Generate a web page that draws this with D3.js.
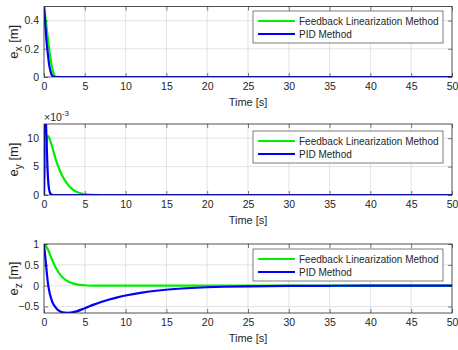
<!DOCTYPE html>
<html>
<head>
<meta charset="utf-8">
<script src="https://cdn.jsdelivr.net/npm/d3@7"></script>
<style>
  html, body { margin: 0; padding: 0; background: #fff; }
  svg { display: block; font-family: "Liberation Sans", Arial, sans-serif; }
</style>
</head>
<body>
<svg id="chart" width="458" height="350"></svg>
<script>
// Tracking error of the three position coordinates, two controllers.
const seriesNames = ["Feedback Linearization Method", "PID Method"];
const seriesColors = ["#00ee00", "#0000ff"];
const xTicks = [0, 5, 10, 15, 20, 25, 30, 35, 40, 45, 50];

// e_x [m]
const exTimeFL = [0, 0.1, 0.2, 0.3, 0.4, 0.5, 0.6, 0.7, 0.8, 0.9, 1.0, 1.1, 1.2, 1.3, 1.4, 1.6, 2, 50];
const exFL     = [0.5, 0.46, 0.41, 0.36, 0.31, 0.26, 0.21, 0.17, 0.13, 0.095, 0.065, 0.04, 0.022, 0.01, 0.004, 0.001, 0, 0];
const exTimePID = [0, 0.1, 0.2, 0.3, 0.4, 0.5, 0.6, 0.7, 0.8, 0.9, 1.0, 1.2, 1.5, 50];
const exPID     = [0.5, 0.42, 0.34, 0.26, 0.2, 0.15, 0.1, 0.065, 0.04, 0.02, 0.01, 0.002, 0, 0];
const exTicks = [0, 0.2, 0.4];

// e_y [m]
const eyTimeFL = [0, 0.1, 0.2, 0.3, 0.45, 0.6, 0.8, 1.0, 1.25, 1.5, 1.75, 2, 2.5, 3, 3.5, 4, 4.5, 5, 6, 7, 50];
const eyFL     = [0, 0.004, 0.007, 0.009, 0.0104, 0.0102, 0.0094, 0.0085, 0.0072, 0.006, 0.005, 0.0041, 0.0027, 0.0017, 0.001, 0.00055, 0.00028, 0.00012, 0.00002, 0, 0];
const eyTimePID = [0, 0.03, 0.25, 0.35, 0.45, 0.55, 0.7, 0.9, 1.1, 50];
const eyPID     = [0, 0.02, 0.0125, 0.008, 0.004, 0.0018, 0.0005, 0.0001, 0, 0];
const eyTicks = [0, 0.005, 0.01];

// e_z [m]
const ezTimeFL = [0, 0.25, 0.5, 0.75, 1, 1.25, 1.5, 2, 2.5, 3, 3.5, 4, 5, 6, 7, 8, 50];
const ezFL     = [1, 0.95, 0.86, 0.74, 0.62, 0.51, 0.41, 0.26, 0.16, 0.095, 0.055, 0.03, 0.01, 0.003, 0.001, 0, 0];
const ezTimePID = [0, 0.1, 0.2, 0.3, 0.4, 0.5, 0.75, 1, 1.5, 2, 2.5, 3, 3.5, 4, 5, 6, 7, 8, 9, 10, 12, 14, 16, 18, 20, 22, 25, 30, 35, 40, 50];
const ezPID     = [1, 0.8, 0.6, 0.4, 0.2, 0.03, -0.22, -0.38, -0.54, -0.62, -0.648, -0.652, -0.64, -0.615, -0.54, -0.46, -0.39, -0.33, -0.28, -0.235, -0.165, -0.115, -0.08, -0.055, -0.037, -0.025, -0.014, -0.005, -0.002, 0, 0];
const ezTicks = [-0.5, 0, 0.5, 1];

const panels = [
  { label: "x", domain: [0, 0.5], ticks: exTicks, fmt: d => d3.format("~g")(d),
    series: [[exTimeFL, exFL], [exTimePID, exPID]], top: 6.5, bottom: 77, legendTop: 11 },
  { label: "y", domain: [0, 0.0125], ticks: eyTicks, fmt: d => d3.format("~g")(d * 1000), exponent: "-3",
    series: [[eyTimeFL, eyFL], [eyTimePID, eyPID]], top: 124, bottom: 195, legendTop: 131 },
  { label: "z", domain: [-0.655, 1], ticks: ezTicks, fmt: d => d3.format("~g")(d),
    series: [[ezTimeFL, ezFL], [ezTimePID, ezPID]], top: 244, bottom: 313, legendTop: 249 }
];

const svg = d3.select("#chart");
const left = 44, right = 452;
const axisColor = "#262626";
const x = d3.scaleLinear().domain([0, 50]).range([left, right]);

panels.forEach((p, i) => {
  const y = d3.scaleLinear().domain(p.domain).range([p.bottom, p.top]);
  const h = p.bottom - p.top;
  const g = svg.append("g");

  // plot background
  g.append("rect").attr("x", left).attr("y", p.top).attr("width", right - left).attr("height", h).attr("fill", "#fff");

  // grid
  const grid = g.append("g").attr("stroke", "#dcdcdc").attr("stroke-width", 0.8);
  grid.selectAll("line.v").data(xTicks.slice(1, -1)).join("line")
    .attr("x1", d => x(d)).attr("x2", d => x(d)).attr("y1", p.top).attr("y2", p.bottom);
  grid.selectAll("line.h").data(p.ticks.filter(d => y(d) < p.bottom - 0.5 && y(d) > p.top + 0.5)).join("line")
    .attr("x1", left).attr("x2", right).attr("y1", d => y(d)).attr("y2", d => y(d));

  // curves
  const clipId = "clip" + i;
  svg.append("clipPath").attr("id", clipId).append("rect")
    .attr("x", left).attr("y", p.top).attr("width", right - left).attr("height", h);
  const line = d3.line().curve(d3.curveMonotoneX);
  p.series.forEach(([t, v], k) => {
    g.append("path")
      .attr("clip-path", `url(#${clipId})`)
      .attr("d", line(t.map((tt, j) => [x(tt), y(v[j])])))
      .attr("fill", "none").attr("stroke", seriesColors[k]).attr("stroke-width", 2.2)
      .attr("stroke-linejoin", "round");
  });

  // axes (ticks inside on all four sides)
  const xb = g.append("g").attr("transform", `translate(0,${p.bottom})`)
    .call(d3.axisBottom(x).tickValues(xTicks).tickFormat(d3.format("d")).tickSizeInner(-4).tickSizeOuter(0).tickPadding(6));
  const xt = g.append("g").attr("transform", `translate(0,${p.top})`)
    .call(d3.axisTop(x).tickValues(xTicks).tickFormat("").tickSizeInner(-4).tickSizeOuter(0));
  const yl = g.append("g").attr("transform", `translate(${left},0)`)
    .call(d3.axisLeft(y).tickValues(p.ticks).tickFormat(p.fmt).tickSizeInner(-4).tickSizeOuter(0).tickPadding(5));
  const yr = g.append("g").attr("transform", `translate(${right},0)`)
    .call(d3.axisRight(y).tickValues(p.ticks).tickFormat("").tickSizeInner(-4).tickSizeOuter(0));
  [xb, xt, yl, yr].forEach(a => {
    a.select(".domain").remove();
    a.selectAll("line").attr("stroke", axisColor).attr("stroke-width", 0.6);
    a.selectAll("text").attr("fill", axisColor).style("font-size", "10.5px").style("font-family", '"Liberation Sans", Arial, sans-serif');
  });
  g.append("rect").attr("x", left).attr("y", p.top).attr("width", right - left).attr("height", h)
    .attr("fill", "none").attr("stroke", axisColor).attr("stroke-width", 0.8);

  // axis titles
  g.append("text").attr("x", x(25)).attr("y", p.bottom + 29).attr("text-anchor", "middle")
    .attr("fill", axisColor).style("font-size", "11px").text("Time [s]");
  const yt = g.append("text")
    .attr("transform", `translate(18,${(p.top + p.bottom) / 2}) rotate(-90)`)
    .attr("text-anchor", "middle").attr("fill", axisColor).style("font-size", "13px");
  yt.append("tspan").text("e");
  yt.append("tspan").attr("dy", 3.5).style("font-size", "10px").text(p.label);
  yt.append("tspan").attr("dy", -3.5).text(" [m]");

  if (p.exponent) {
    const ex = g.append("text").attr("x", left).attr("y", p.top - 3).attr("fill", axisColor).style("font-size", "10.5px");
    ex.append("tspan").text("\u00d710");
    ex.append("tspan").attr("dy", -5).style("font-size", "8px").text(p.exponent);
  }

  // legend
  const lg = g.append("g").attr("transform", `translate(253,${p.legendTop})`);
  lg.append("rect").attr("width", 190).attr("height", 32).attr("fill", "#fff")
    .attr("stroke", axisColor).attr("stroke-width", 0.6);
  seriesNames.forEach((name, k) => {
    const ly = 10 + k * 13;
    lg.append("line").attr("x1", 5).attr("x2", 42).attr("y1", ly).attr("y2", ly)
      .attr("stroke", seriesColors[k]).attr("stroke-width", 2);
    lg.append("text").attr("x", 46).attr("y", ly + 3.6).attr("fill", axisColor)
      .style("font-size", "10px").text(name);
  });
});
</script>
</body>
</html>
